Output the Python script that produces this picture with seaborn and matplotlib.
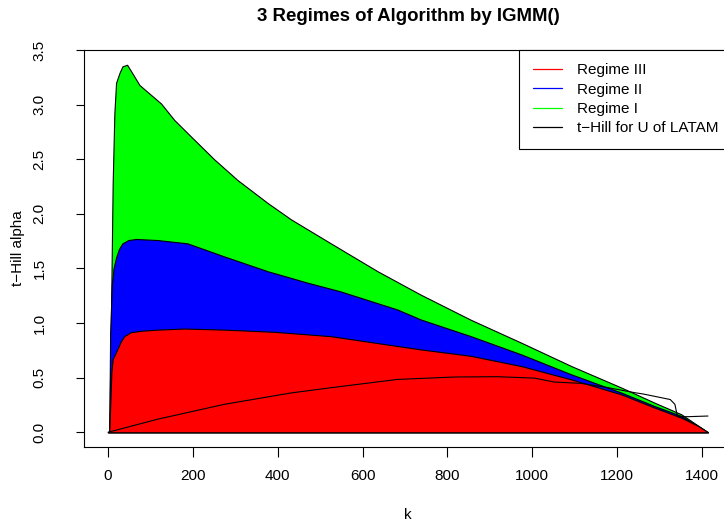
import matplotlib
matplotlib.use("Agg")
import matplotlib.pyplot as plt
from matplotlib.lines import Line2D
import pandas as pd
import seaborn as sns

# values
k_regime1 = [0, 3, 7, 11, 15, 19, 27, 34, 45, 60, 74, 101, 125, 156, 195, 250, 305,
             376, 431, 525, 635, 737, 855, 974, 1092, 1210, 1288, 1351, 1414]
regime1 = [0, 0.01, 1.06, 2.28, 2.92, 3.20, 3.29, 3.35, 3.365, 3.27, 3.18, 3.09,
           3.01, 2.86, 2.71, 2.50, 2.31, 2.10, 1.95, 1.73, 1.475, 1.26, 1.03, 0.82,
           0.606, 0.409, 0.271, 0.165, 0]

k_regime2 = [0, 3, 5, 9, 13, 19, 26, 34, 48, 66, 117, 187, 274, 376, 470, 548, 682,
             737, 855, 974, 1092, 1210, 1288, 1351, 1414]
regime2 = [0, 0.01, 0.9, 1.35, 1.5, 1.6, 1.68, 1.73, 1.76, 1.77, 1.76, 1.73, 1.61,
           1.475, 1.37, 1.29, 1.124, 1.033, 0.88, 0.713, 0.53, 0.363, 0.24, 0.15, 0]

k_regime3 = [0, 3, 8, 11, 17, 23, 30, 38, 54, 80, 117, 180, 274, 391, 525, 682, 737,
             855, 974, 1092, 1210, 1288, 1351, 1391, 1414]
regime3 = [0, 0.01, 0.55, 0.67, 0.72, 0.77, 0.83, 0.88, 0.917, 0.93, 0.94, 0.95,
           0.94, 0.92, 0.88, 0.79, 0.759, 0.70, 0.606, 0.484, 0.347, 0.226, 0.134,
           0.058, 0]

k_thill = [0, 117, 274, 431, 525, 682, 816, 918, 1005, 1052, 1115, 1178, 1241,
           1262, 1300, 1325, 1336, 1342, 1367, 1414]
thill = [0, 0.12, 0.256, 0.36, 0.408, 0.484, 0.506, 0.509, 0.496, 0.46, 0.448,
         0.409, 0.363, 0.35, 0.32, 0.30, 0.256, 0.143, 0.143, 0.149]

legend_labels = ["Regime III", "Regime II", "Regime I", "t\u2212Hill for U of LATAM"]

sns.set_style("white")
plt.rcParams['font.family'] = ['Liberation Sans', 'DejaVu Sans']
for key in ['text.color', 'axes.labelcolor', 'xtick.color', 'ytick.color']:
    plt.rcParams[key] = 'black'

W, H = 724, 525
fig = plt.figure(figsize=(W / 100, H / 100), dpi=100)
ax = fig.add_axes([84 / W, 1 - 447 / H, (732 - 84) / W, (447 - 50) / H])

# stacked look: draw biggest polygon first
for kk, vv, col in [(k_regime1, regime1, "#00ff00"),
                    (k_regime2, regime2, "#0000ff"),
                    (k_regime3, regime3, "#ff0000")]:
    ax.fill_between(kk, 0, vv, facecolor=col, edgecolor="black", linewidth=0.8)

df_t = pd.DataFrame({"k": k_thill, "alpha": thill})
sns.lineplot(data=df_t, x="k", y="alpha", color="black", linewidth=0.8,
             ax=ax, estimator=None, sort=False)

# R style 4% padding
kmax = max(k_regime1 + k_regime2 + k_regime3 + k_thill)
ymax = max(regime1 + regime2 + regime3 + thill)
ax.set_xlim(-0.04 * kmax, kmax * 1.04)
ax.set_ylim(-0.04 * ymax, ymax * 1.04)

fs = 11
ax.set_xticks([0, 200, 400, 600, 800, 1000, 1200, 1400])
ax.set_yticks([0.0, 0.5, 1.0, 1.5, 2.0, 2.5, 3.0, 3.5])
ax.set_yticklabels(["0.0", "0.5", "1.0", "1.5", "2.0", "2.5", "3.0", "3.5"])
ax.tick_params(axis="x", direction="out", length=7, width=0.8, pad=9,
               labelsize=fs, bottom=True, color="black", labelcolor="black")
ax.tick_params(axis="y", direction="out", length=6, width=0.8, pad=21,
               labelsize=fs, left=True, labelrotation=90, color="black",
               labelcolor="black")
for lab in ax.get_yticklabels():
    lab.set_va("center")
for sp in ax.spines.values():
    sp.set_color("black")
    sp.set_linewidth(0.8)
ax.set_xlabel("")
ax.set_ylabel("")

fig.text(408 / W, 1 - 20.7 / H, "3 Regimes of Algorithm by IGMM()", ha="center",
         va="baseline", fontsize=13.4, fontweight="bold")
fig.text(408 / W, 1 - 515 / H, "k", ha="center", va="center", fontsize=fs)
fig.text(18 / W, 1 - 248 / H, "t\u2212Hill alpha", ha="center", va="center",
         rotation=90, fontsize=fs)

handles = [Line2D([], [], color=c, linewidth=0.9)
           for c in ["#ff0000", "#0000ff", "#00ff00", "black"]]
leg = ax.legend(handles, legend_labels, loc="upper right", bbox_to_anchor=(1, 1),
                borderaxespad=0, fontsize=fs, frameon=True, fancybox=False,
                edgecolor="black", framealpha=1, handlelength=1.9,
                handletextpad=1.0, labelspacing=0.35, borderpad=0.88)
leg.get_frame().set_linewidth(0.8)

fig.savefig("out.png", dpi=100)
